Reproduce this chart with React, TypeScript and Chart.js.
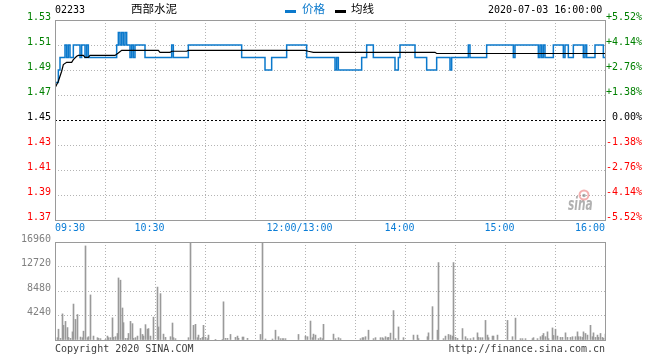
import React, { useEffect, useRef } from 'react';
import { Chart, registerables } from 'chart.js';

Chart.register(...registerables);

const MONO = '"DejaVu Sans Mono", "Liberation Mono", monospace';
const CJK = '"Noto Sans CJK SC", "Noto Sans", sans-serif';
const PRICE_COLOR = '#0b79cc';
const AXIS_BLUE = '#0b7dd6';
const GRID_COLOR = '#b4b4b4';
const FRAME_COLOR = '#9a9a9a';
const VOL_COLOR = '#9a9a9a';

// ---- texts ----
const stockCode = '02233';
const stockName = '西部水泥';
const dateText = '2020-07-03 16:00:00';
const legendPrice = '价格';
const legendAvg = '均线';
const copyrightText = 'Copyright 2020 SINA.COM';
const urlText = 'http://finance.sina.com.cn';
const watermarkText = 'sina';

// ---- axes ----
const prevClose = 1.45;
const priceTicks = [1.37, 1.39, 1.41, 1.43, 1.45, 1.47, 1.49, 1.51, 1.53];
const priceTickLabels = ['1.37', '1.39', '1.41', '1.43', '1.45', '1.47', '1.49', '1.51', '1.53'];
const pctTickLabels = ['-5.52%', '-4.14%', '-2.76%', '-1.38%', '0.00%', '+1.38%', '+2.76%', '+4.14%', '+5.52%'];
const tickColors = ['#ff0000', '#ff0000', '#ff0000', '#ff0000', '#000000', '#008000', '#008000', '#008000', '#008000'];

// minutes since 09:30 (12:00 and 13:00 share index 150)
const timeGridTicks = [0, 30, 60, 90, 120, 150, 180, 210, 240, 270, 300, 330];
const timeLabelMinutes = [0, 60, 150, 210, 270, 330];
const timeLabelTexts = ['09:30', '10:30', '12:00/13:00', '14:00', '15:00', '16:00'];

const volumeTicks = [0, 4240, 8480, 12720, 16960];
const volumeTickLabels = ['', '4240', '8480', '12720', '16960'];

// ---- price (change points) ----
const priceMinutes = [
  0, 2, 3, 6, 7, 8, 9, 11, 15, 16,
  18, 19, 20, 37, 38, 39, 40, 41, 42, 43,
  45, 46, 47, 48, 54, 70, 71, 80, 112, 126,
  130, 139, 151, 168, 169, 170, 184, 187, 191, 204,
  206, 207, 216, 223, 229, 237, 238, 248, 249, 259,
  275, 276, 290, 291, 292, 293, 294, 299, 305, 306,
  308, 311, 317, 318, 319, 324, 329, 330,
];
const priceValues = [
  1.48, 1.49, 1.50, 1.51, 1.50, 1.51, 1.50, 1.51, 1.50, 1.51,
  1.50, 1.51, 1.50, 1.51, 1.52, 1.51, 1.52, 1.51, 1.52, 1.51,
  1.50, 1.51, 1.50, 1.51, 1.50, 1.51, 1.50, 1.51, 1.50, 1.49,
  1.50, 1.51, 1.50, 1.49, 1.50, 1.49, 1.50, 1.51, 1.50, 1.49,
  1.50, 1.51, 1.50, 1.49, 1.50, 1.49, 1.50, 1.51, 1.50, 1.51,
  1.50, 1.51, 1.50, 1.51, 1.50, 1.51, 1.50, 1.51, 1.50, 1.51,
  1.50, 1.51, 1.50, 1.51, 1.50, 1.51, 1.50, 1.50,
];

// ---- average line ----
const avgMinutes = [0, 2, 4, 5, 7, 10, 11, 13, 14, 17, 18, 20, 21, 36, 38, 40, 62, 63, 69, 70, 79, 80, 150, 152, 155, 228, 229, 330];
const avgValues = [
  1.4756, 1.481, 1.489, 1.4943, 1.4961, 1.4961, 1.4983, 1.501, 1.5017, 1.5017,
  1.5001, 1.5001, 1.5017, 1.5017, 1.5036, 1.5057, 1.5057, 1.5041, 1.5041, 1.505,
  1.505, 1.5057, 1.5057, 1.505, 1.5041, 1.5041, 1.5032, 1.5032,
];

// ---- volume ----
const volumeMinutes = [
  1, 2, 3, 4, 5, 6, 7, 8, 9, 10,
  11, 12, 13, 15, 16, 17, 18, 19, 20, 21,
  23, 25, 26, 27, 30, 31, 32, 33, 34, 35,
  36, 37, 38, 39, 40, 41, 42, 43, 44, 45,
  46, 47, 48, 49, 51, 52, 53, 54, 55, 56,
  57, 59, 61, 62, 63, 65, 66, 69, 70, 71,
  72, 80, 81, 83, 84, 85, 86, 87, 88, 89,
  90, 91, 92, 96, 100, 101, 102, 103, 105, 108,
  109, 110, 112, 113, 115, 123, 124, 126, 130, 132,
  134, 135, 136, 137, 138, 146, 150, 151, 153, 154,
  155, 156, 158, 159, 160, 161, 167, 168, 170, 171,
  183, 184, 185, 186, 188, 191, 192, 195, 196, 197,
  198, 199, 200, 201, 203, 204, 206, 209, 215, 217,
  218, 223, 224, 226, 229, 230, 233, 234, 236, 237,
  238, 239, 240, 241, 244, 246, 247, 249, 251, 253,
  254, 255, 256, 258, 259, 260, 262, 263, 265, 271,
  274, 276, 279, 280, 282, 286, 287, 289, 291, 292,
  293, 294, 295, 296, 298, 299, 300, 301, 303, 304,
  306, 307, 309, 310, 312, 313, 314, 315, 316, 317,
  318, 319, 321, 322, 323, 324, 325, 326, 327, 328,
  329, 330,
];
const volumeValues = [
  400, 1870, 280, 4520, 2540, 3220, 2150, 450, 280, 1410,
  6220, 3560, 4410, 510, 400, 1530, 16280, 400, 570, 7800,
  680, 400, 280, 230, 110, 680, 400, 400, 3840, 450,
  570, 1130, 10740, 10350, 5540, 3000, 280, 280, 1130, 3220,
  2830, 280, 400, 680, 1980, 960, 680, 2660, 1870, 1980,
  680, 3960, 9160, 2260, 8030, 1020, 450, 570, 2940, 400,
  230, 400, 30000, 2540, 2710, 400, 850, 280, 450, 2540,
  450, 230, 850, 110, 110, 6610, 280, 280, 960, 450,
  680, 280, 510, 510, 280, 960, 30000, 170, 170, 1700,
  570, 230, 230, 230, 230, 960, 680, 570, 3280, 400,
  1020, 850, 230, 400, 230, 2710, 1020, 230, 400, 230,
  230, 400, 400, 570, 1700, 230, 400, 400, 400, 230,
  570, 400, 450, 1190, 5090, 230, 2260, 400, 850, 850,
  230, 570, 1240, 5770, 1700, 13400, 230, 680, 960, 850,
  680, 13400, 450, 280, 1980, 570, 230, 230, 400, 1240,
  450, 400, 400, 3390, 850, 400, 680, 680, 850, 3390,
  570, 3790, 230, 230, 230, 230, 400, 230, 570, 790,
  1130, 570, 1410, 230, 2090, 790, 1870, 680, 450, 450,
  1240, 450, 450, 570, 570, 1410, 570, 570, 450, 1410,
  1130, 850, 2540, 570, 1240, 450, 850, 450, 1130, 450,
  280, 1020,
];

const isPrevClose = (v: number) => Math.abs(v - prevClose) < 1e-9;

const mainDecor = {
  id: 'mainDecor',
  afterDraw(chart: any) {
    const { ctx, chartArea: a, scales } = chart;
    ctx.save();
    // watermark
    ctx.save();
    ctx.translate(568, 210);
    ctx.scale(0.62, 1);
    ctx.font = 'italic bold 17px "DejaVu Sans", sans-serif';
    ctx.fillStyle = 'rgba(150,150,150,0.75)';
    ctx.textAlign = 'left';
    ctx.textBaseline = 'alphabetic';
    ctx.fillText(watermarkText, 0, 0);
    ctx.restore();
    ctx.beginPath();
    ctx.strokeStyle = 'rgba(235,110,110,0.55)';
    ctx.lineWidth = 2;
    ctx.arc(584, 195, 4.5, 0, Math.PI * 2);
    ctx.stroke();
    ctx.beginPath();
    ctx.fillStyle = 'rgba(120,120,120,0.6)';
    ctx.arc(584, 195.5, 1.8, 0, Math.PI * 2);
    ctx.fill();

    // frame
    ctx.strokeStyle = FRAME_COLOR;
    ctx.lineWidth = 1;
    ctx.setLineDash([]);
    ctx.strokeRect(a.left + 0.5, a.top + 0.5, a.right - a.left, a.bottom - a.top);

    // time labels
    ctx.font = `10px ${MONO}`;
    ctx.fillStyle = AXIS_BLUE;
    ctx.textBaseline = 'alphabetic';
    const last = timeLabelMinutes.length - 1;
    timeLabelMinutes.forEach((m, i) => {
      const px = scales.x.getPixelForValue(m);
      if (i === 0) {
        ctx.textAlign = 'left';
        ctx.fillText(timeLabelTexts[i], px, a.bottom + 11);
      } else if (i === last) {
        ctx.textAlign = 'right';
        ctx.fillText(timeLabelTexts[i], px, a.bottom + 11);
      } else {
        ctx.textAlign = 'center';
        ctx.fillText(timeLabelTexts[i], px - 5.5, a.bottom + 11);
      }
    });

    // header
    ctx.textAlign = 'left';
    ctx.fillStyle = '#000';
    ctx.font = `10px ${MONO}`;
    ctx.fillText(stockCode, 55, 12.5);
    ctx.fillText(dateText, 488, 12.5);
    ctx.font = `11.5px ${CJK}`;
    ctx.textBaseline = 'middle';
    ctx.fillText(stockName, 131, 8.5);
    // legend
    ctx.fillStyle = PRICE_COLOR;
    ctx.fillRect(285, 10, 11, 3);
    ctx.fillText(legendPrice, 302, 9);
    ctx.fillStyle = '#000';
    ctx.fillRect(335, 10, 11, 3);
    ctx.fillText(legendAvg, 351, 9);
    ctx.restore();
  },
};

const volDecor = {
  id: 'volDecor',
  afterDatasetUpdate(chart: any, args: any) {
    args.meta.data.forEach((el: any) => {
      el.x = Math.round(el.x) + 0.5;
    });
  },
  afterDraw(chart: any) {
    const { ctx, chartArea: a } = chart;
    ctx.save();
    ctx.strokeStyle = FRAME_COLOR;
    ctx.lineWidth = 1;
    ctx.setLineDash([]);
    ctx.strokeRect(a.left + 0.5, a.top + 0.5, a.right - a.left, a.bottom - a.top);
    ctx.font = `10px ${MONO}`;
    ctx.fillStyle = '#404040';
    ctx.textBaseline = 'alphabetic';
    ctx.textAlign = 'left';
    ctx.fillText(copyrightText, a.left, a.bottom + 12);
    ctx.textAlign = 'right';
    ctx.fillText(urlText, a.right, a.bottom + 12);
    ctx.restore();
  },
};

export default function App() {
  const mainRef = useRef<HTMLCanvasElement>(null);
  const volRef = useRef<HTMLCanvasElement>(null);

  useEffect(() => {
    Chart.defaults.font.family = MONO;
    const tickFont = { family: MONO, size: 10 };

    const main = new Chart(mainRef.current as HTMLCanvasElement, {
      type: 'line',
      data: {
        datasets: [
          {
            label: legendAvg,
            data: avgMinutes.map((m, i) => ({ x: m, y: avgValues[i] })),
            borderColor: '#000000',
            borderWidth: 1.2,
            pointRadius: 0,
            fill: false,
            tension: 0,
          },
          {
            label: legendPrice,
            data: priceMinutes.map((m, i) => ({ x: m, y: priceValues[i] })),
            borderColor: PRICE_COLOR,
            borderWidth: 1.5,
            pointRadius: 0,
            fill: false,
            stepped: true,
          },
        ],
      },
      options: {
        responsive: false,
        animation: false,
        events: [],
        layout: { padding: { left: 0, right: 18, top: 20, bottom: 12 } },
        plugins: { legend: { display: false }, tooltip: { enabled: false }, title: { display: false } },
        scales: {
          x: {
            type: 'linear',
            min: 0,
            max: 330,
            afterBuildTicks: (s: any) => { s.ticks = timeGridTicks.map((v) => ({ value: v })); },
            ticks: { display: false },
            grid: { color: GRID_COLOR, lineWidth: 1, drawTicks: false },
            border: { display: false, dash: [1, 2] },
            afterFit: (s: any) => { s.height = 0; },
          },
          y: {
            type: 'linear',
            position: 'left',
            min: 1.37,
            max: 1.53,
            afterBuildTicks: (s: any) => { s.ticks = priceTicks.map((v) => ({ value: v })); },
            ticks: {
              autoSkip: false,
              callback: (_v: any, i: number) => priceTickLabels[i],
              color: (c: any) => tickColors[c.index],
              font: tickFont,
              padding: 4,
              labelOffset: -3,
            },
            grid: {
              color: (c: any) => (c.tick && isPrevClose(c.tick.value) ? '#000000' : GRID_COLOR),
              lineWidth: 1,
              drawTicks: false,
            },
            border: {
              display: false,
              dash: (c: any) => (c.tick && isPrevClose(c.tick.value) ? [2, 2] : [1, 2]),
            },
            afterFit: (s: any) => { s.width = 55; },
          },
          yr: {
            type: 'linear',
            position: 'right',
            min: 1.37,
            max: 1.53,
            afterBuildTicks: (s: any) => { s.ticks = priceTicks.map((v) => ({ value: v })); },
            ticks: {
              autoSkip: false,
              callback: (_v: any, i: number) => pctTickLabels[i],
              color: (c: any) => tickColors[c.index],
              font: tickFont,
              padding: 0,
              labelOffset: -3,
              crossAlign: 'far',
            },
            grid: { display: false, drawTicks: false },
            border: { display: false },
            afterFit: (s: any) => { s.width = 37; },
          },
        },
      } as any,
      plugins: [mainDecor],
    });

    const vol = new Chart(volRef.current as HTMLCanvasElement, {
      type: 'bar',
      data: {
        datasets: [
          {
            label: 'volume',
            data: volumeMinutes.map((m, i) => ({ x: m, y: volumeValues[i] })),
            backgroundColor: VOL_COLOR,
            borderWidth: 0,
            barThickness: 1,
          },
        ],
      },
      options: {
        responsive: false,
        animation: false,
        events: [],
        layout: { padding: { left: 0, right: 55, top: 8, bottom: 20 } },
        plugins: { legend: { display: false }, tooltip: { enabled: false }, title: { display: false } },
        scales: {
          x: {
            type: 'linear',
            min: 0,
            max: 330,
            offset: false,
            afterBuildTicks: (s: any) => { s.ticks = timeGridTicks.map((v) => ({ value: v })); },
            ticks: { display: false },
            grid: { offset: false, color: GRID_COLOR, lineWidth: 1, drawTicks: false },
            border: { display: false, dash: [1, 2] },
            afterFit: (s: any) => { s.height = 0; },
          },
          y: {
            type: 'linear',
            min: 0,
            max: 16960,
            afterBuildTicks: (s: any) => { s.ticks = volumeTicks.map((v) => ({ value: v })); },
            ticks: {
              autoSkip: false,
              callback: (_v: any, i: number) => volumeTickLabels[i],
              color: '#808080',
              font: tickFont,
              padding: 4,
              labelOffset: -3,
            },
            grid: { color: GRID_COLOR, lineWidth: 1, drawTicks: false },
            border: { display: false, dash: [1, 2] },
            afterFit: (s: any) => { s.width = 55; },
          },
        },
      } as any,
      plugins: [volDecor],
    });

    return () => {
      main.destroy();
      vol.destroy();
    };
  }, []);

  return (
    <div style={{ position: 'absolute', left: 0, top: 0, width: 660, height: 360, background: '#ffffff' }}>
      <canvas ref={mainRef} width={660} height={232} style={{ position: 'absolute', left: 0, top: 0 }} />
      <canvas ref={volRef} width={660} height={128} style={{ position: 'absolute', left: 0, top: 232 }} />
    </div>
  );
}
